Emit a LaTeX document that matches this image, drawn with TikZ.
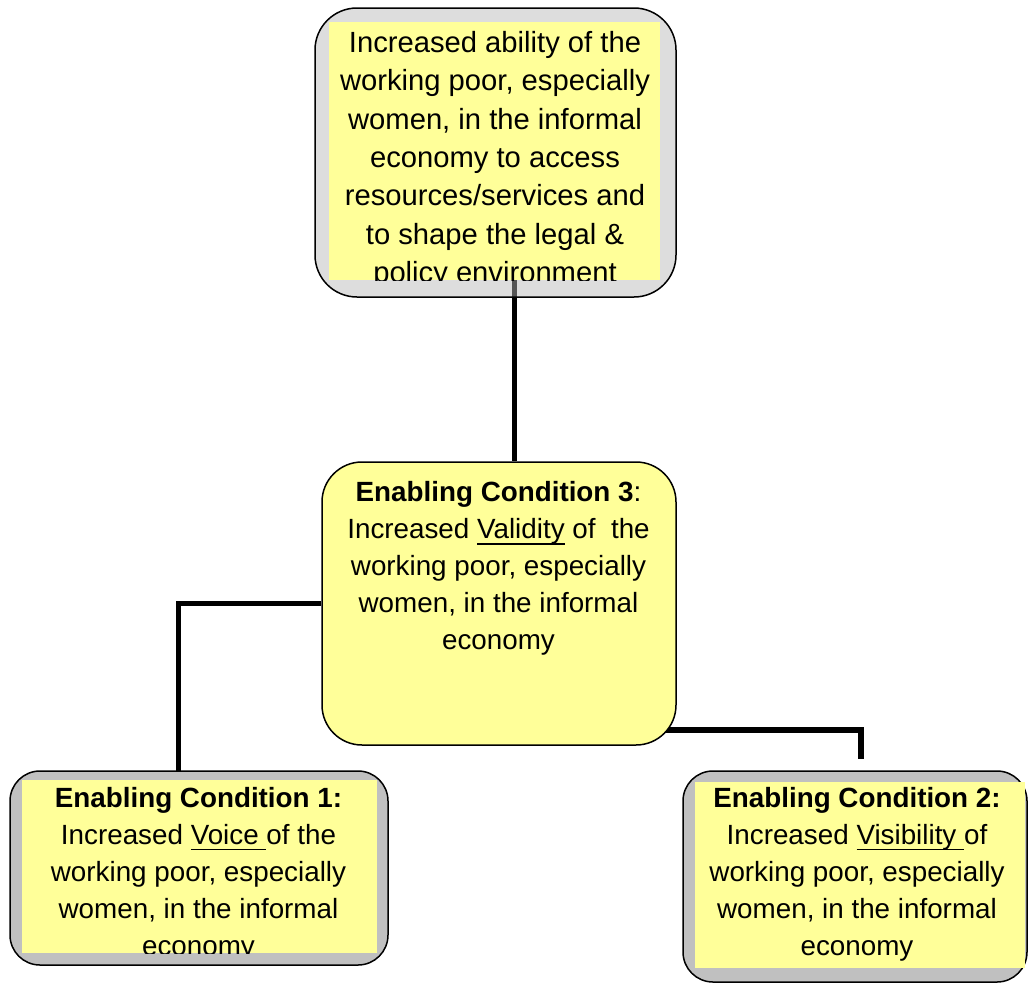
\documentclass[tikz,border=0pt]{standalone}
\usepackage{fontspec}
\setmainfont{Liberation Sans}
\usetikzlibrary{backgrounds}
\definecolor{paleyellow}{HTML}{FFFF99}
\definecolor{framegray}{HTML}{C0C0C0}
\definecolor{shadegray}{RGB}{182,182,182}
% underline at a fixed depth below the baseline, like a word processor
\newsavebox\undlbox
\newcommand{\undl}[1]{\sbox\undlbox{#1}\rlap{\rule[-6pt]{\wd\undlbox}{1.4pt}}\usebox\undlbox}
\begin{document}
\begin{tikzpicture}[x=1pt,y=-1pt,
  framebox/.style={draw=black, line width=1.5pt, inner sep=0pt, rounded corners=#1},
  textpanel/.style={draw=none, fill=paleyellow, inner sep=0pt},
  bigtext/.style={anchor=north, align=center, inner sep=0pt,
    font=\fontsize{29.2}{38.4}\selectfont},
  boxtext/.style={anchor=north, align=center, inner sep=0pt,
    font=\fontsize{27.8}{37}\selectfont},
  link/.style={draw=black, line width=5.5pt}]
\useasboundingbox (0,0) rectangle (1028,983);

% goal box: translucent grey frame with a yellow text panel
\node[framebox=42pt, fill=shadegray, fill opacity=0.47,
  minimum width=361pt, minimum height=289pt] (goal) at (495.5,152.5) {};
\node[textpanel, minimum width=331pt, minimum height=258pt] (goalin) at (494.5,151) {};

% enabling condition 3
\node[framebox=40pt, fill=paleyellow,
  minimum width=354pt, minimum height=283pt] (ec3) at (499,603.5) {};

% enabling condition 1
\node[framebox=30pt, fill=framegray,
  minimum width=378pt, minimum height=194pt] (ec1) at (199,868) {};
\node[textpanel, minimum width=355pt, minimum height=173pt] (ec1in) at (199.5,866.5) {};

% enabling condition 2
\node[framebox=30pt, fill=framegray,
  minimum width=344pt, minimum height=211pt] (ec2) at (855,876.5) {};
\node[textpanel, minimum width=330pt, minimum height=186pt] (ec2in) at (859.5,875) {};

% texts, cut off at the edges of their panels
\begin{scope}
  \clip (goalin.south west) rectangle (goalin.north east);
  \node[bigtext] (goaltxt) at (495,22) {\rule{0pt}{30pt}Increased ability of the\\
    working poor, especially\\ women, in the informal\\ economy to access\\
    resources/services and\\ to shape the legal \&\\ policy environment};
\end{scope}

\node[boxtext] (ec3txt) at (498.5,471.5) {\rule{0pt}{30pt}\textbf{Enabling Condition 3}:\\
  Increased \undl{Validity} of\ \ the\\ working poor, especially\\
  women, in the informal\\ economy};

\begin{scope}
  \clip (ec1in.south west) rectangle (ec1in.north east);
  \node[boxtext] (ec1txt) at (198.5,777) {\rule{0pt}{30pt}\textbf{Enabling Condition 1:}\\
    Increased \undl{Voice }of the\\ working poor, especially\\
    women, in the informal\\ economy};
\end{scope}

\begin{scope}
  \clip (ec2in.south west) rectangle (ec2in.north east);
  \node[boxtext] (ec2txt) at (857,777) {\rule{0pt}{30pt}\textbf{Enabling Condition 2:}\\
    Increased \undl{Visibility }of\\ working poor, especially\\
    women, in the informal\\ economy};
\end{scope}

% connectors, kept behind the boxes
\coordinate (goalfoot) at (514.5,280);
\coordinate (ec1top) at (178.5,771);
\coordinate (ec2stub) at (861,759);
\begin{pgfonlayer}{background}
  \draw[link] (goalfoot) -- (goalfoot |- ec3.north);
  \draw[link] (ec3.west) -| (ec1top);
  \draw[link] ([shift={(-60,-16)}]ec3.south east) -| (ec2stub);
\end{pgfonlayer}
\end{tikzpicture}
\end{document}
